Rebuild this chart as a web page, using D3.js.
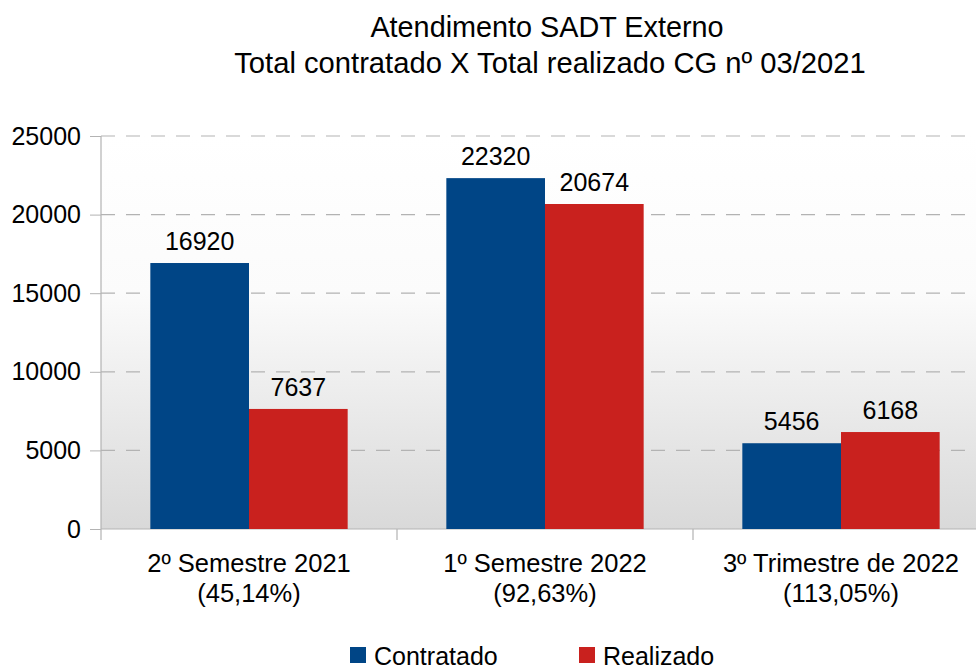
<!DOCTYPE html>
<html>
<head>
<meta charset="utf-8">
<script src="https://cdn.jsdelivr.net/npm/d3@7"></script>
<style>
  body { margin: 0; background: #fff; }
  text { font-family: "Liberation Sans", Arial, sans-serif; fill: #000; }
</style>
</head>
<body>
<script>
// data
var categories = ['2º Semestre 2021', '1º Semestre 2022', '3º Trimestre de 2022'];
var percentLabels = ['(45,14%)', '(92,63%)', '(113,05%)'];
var seriesNames = ['Contratado', 'Realizado'];
var contratado = [16920, 22320, 5456];
var realizado = [7637, 20674, 6168];
var yTicks = [0, 5000, 10000, 15000, 20000, 25000];
var colors = ['#004586', '#c9211e'];

var w = 976, h = 665;
var plotLeft = 101, plotTop = 136, plotBottom = 529;
var plotRight = plotLeft + 296 * 3;

var svg = d3.select('body').append('svg')
    .attr('width', w)
    .attr('height', h);

var defs = svg.append('defs');
var grad = defs.append('linearGradient')
    .attr('id', 'bg')
    .attr('x1', 0).attr('y1', 0).attr('x2', 0).attr('y2', 1);
grad.append('stop').attr('offset', '0%').attr('stop-color', '#ffffff');
grad.append('stop').attr('offset', '40%').attr('stop-color', '#fbfbfb');
grad.append('stop').attr('offset', '100%').attr('stop-color', '#d9d9d9');

var x = d3.scaleBand()
    .domain(categories)
    .range([plotLeft, plotRight]);

var xInner = d3.scaleBand()
    .domain(seriesNames)
    .range([0, x.bandwidth()])
    .paddingOuter(0.5);

var y = d3.scaleLinear()
    .domain([0, 25000])
    .range([plotBottom, plotTop]);

// plot background
svg.append('rect')
    .attr('x', plotLeft).attr('y', plotTop)
    .attr('width', plotRight - plotLeft).attr('height', plotBottom - plotTop)
    .attr('fill', 'url(#bg)');

// gridlines
svg.append('g').selectAll('line')
    .data(yTicks.filter(d => d > 0))
    .enter().append('line')
    .attr('x1', plotLeft).attr('x2', plotRight)
    .attr('y1', d => y(d)).attr('y2', d => y(d))
    .attr('stroke', '#b3b3b3')
    .attr('stroke-width', 1.2)
    .attr('stroke-dasharray', '14,11');

// y axis
var yAxis = d3.axisLeft(y).tickValues(yTicks).tickSize(11).tickPadding(9).tickFormat(d => d);
var gy = svg.append('g').attr('transform', 'translate(' + plotLeft + ',0)').call(yAxis);
gy.select('.domain').remove();
gy.selectAll('line').attr('stroke', '#b3b3b3');
gy.selectAll('text').attr('font-size', '25px').attr('fill', '#000')
    .style('font-family', '"Liberation Sans", Arial, sans-serif');

svg.append('line')
    .attr('x1', plotLeft).attr('x2', plotLeft)
    .attr('y1', plotTop).attr('y2', plotBottom + 11)
    .attr('stroke', '#b3b3b3').attr('stroke-width', 1.2);
svg.append('line')
    .attr('x1', plotLeft).attr('x2', plotRight)
    .attr('y1', plotBottom).attr('y2', plotBottom)
    .attr('stroke', '#b3b3b3').attr('stroke-width', 1.2);

// category separator ticks
svg.append('g').selectAll('line')
    .data(categories.slice(1))
    .enter().append('line')
    .attr('x1', d => x(d)).attr('x2', d => x(d))
    .attr('y1', plotBottom).attr('y2', plotBottom + 11)
    .attr('stroke', '#b3b3b3').attr('stroke-width', 1.2);

// bars
var rows = categories.map((c, i) => ({ cat: c, vals: [contratado[i], realizado[i]] }));

var groups = svg.selectAll('g.group')
    .data(rows)
    .enter().append('g')
    .attr('class', 'group')
    .attr('transform', d => 'translate(' + x(d.cat) + ',0)');

groups.selectAll('rect')
    .data(d => d.vals.map((v, j) => ({ name: seriesNames[j], v: v, j: j })))
    .enter().append('rect')
    .attr('x', d => xInner(d.name))
    .attr('y', d => y(d.v))
    .attr('width', xInner.bandwidth())
    .attr('height', d => plotBottom - y(d.v))
    .attr('fill', d => colors[d.j]);

groups.selectAll('text.val')
    .data(d => d.vals.map((v, j) => ({ name: seriesNames[j], v: v })))
    .enter().append('text')
    .attr('class', 'val')
    .attr('x', d => xInner(d.name) + xInner.bandwidth() / 2)
    .attr('y', d => y(d.v) - 13)
    .attr('text-anchor', 'middle')
    .attr('font-size', '25px')
    .text(d => d.v);

// category labels
var catLabels = svg.append('g').selectAll('text')
    .data(categories)
    .enter().append('text')
    .attr('x', d => x(d) + x.bandwidth() / 2)
    .attr('y', 572)
    .attr('text-anchor', 'middle')
    .attr('font-size', '25.5px');
catLabels.append('tspan').text(d => d);
catLabels.append('tspan')
    .attr('x', d => x(d) + x.bandwidth() / 2)
    .attr('dy', 30)
    .text((d, i) => percentLabels[i]);

// title
svg.append('text')
    .attr('x', 547).attr('y', 37)
    .attr('text-anchor', 'middle')
    .attr('font-size', '28.8px')
    .text('Atendimento SADT Externo');
svg.append('text')
    .attr('x', 550).attr('y', 73)
    .attr('text-anchor', 'middle')
    .attr('font-size', '29.2px')
    .text('Total contratado X Total realizado CG nº 03/2021');

// legend
var legendX = [350, 579];
var legend = svg.selectAll('g.legend')
    .data(seriesNames)
    .enter().append('g')
    .attr('class', 'legend')
    .attr('transform', (d, i) => 'translate(' + legendX[i] + ',647)');
legend.append('rect')
    .attr('width', 16).attr('height', 16)
    .attr('fill', (d, i) => colors[i]);
legend.append('text')
    .attr('x', 24).attr('y', 18)
    .attr('font-size', '25px')
    .text(d => d);
</script>
</body>
</html>
